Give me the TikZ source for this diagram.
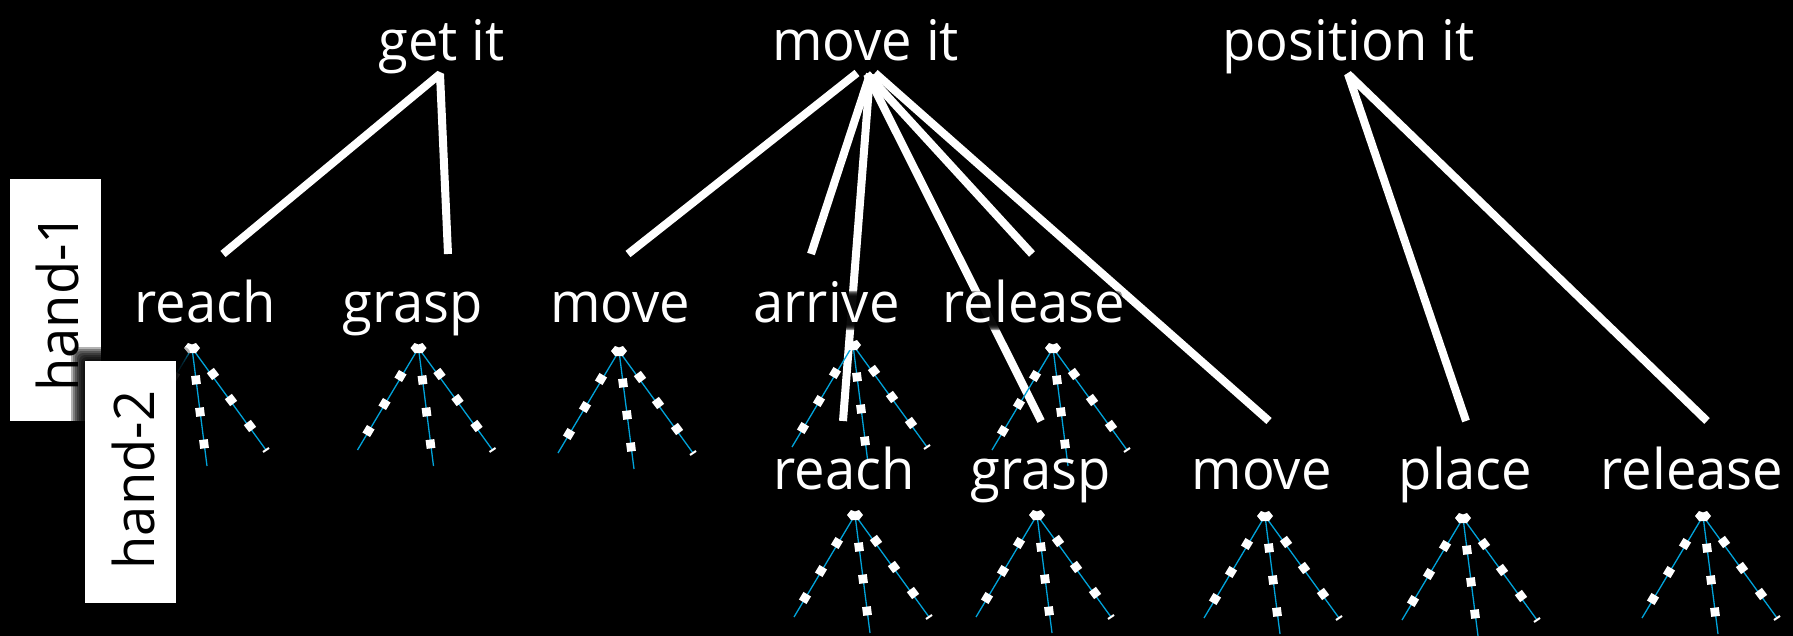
\documentclass[tikz,border=0pt]{standalone}
\usepackage{fontspec}
\setmainfont[FakeStretch=0.97]{Open Sans}
\tikzset{
  lab/.style={text=white,anchor=base,inner sep=0pt,font=\fontsize{56}{64}\selectfont},
  handbox/.style={fill=white,draw=none,inner sep=0pt,minimum width=91pt,minimum height=242pt},
  handtxt/.style={text=black,anchor=base,rotate=90,inner sep=0pt,font=\fontsize{56}{64}\selectfont},
  bar/.style={white,line width=8pt,line join=bevel},
  leg/.style={draw=legblue,line width=1.3pt},
  halo/.style={fill=black,opacity=.4,rounded corners=4pt},
}
\definecolor{legblue}{HTML}{00A3DA}
\newcommand{\fig}[2]{%
  \begin{scope}[shift={(#1,#2)}]
    \draw[leg] (0,0) -- (-61,102);
    \draw[leg] (0,0) -- (15,118);
    \draw[leg] (0,0) -- (74,102);
    \fill[white] (-8,0) -- (-4,-5) -- (0,-3.5) -- (4,-5) -- (8,0) -- (4,5) -- (-4,5) -- cycle;
    \foreach \a/\b in {-18/28,-34/56,-50/83}
      \fill[white,shift={(\a,\b)},rotate=-31] (-4.4,-4.4) rectangle (4.4,4.4);
    \foreach \a/\b in {4/32,8/64,12/96}
      \fill[white,shift={(\a,\b)},rotate=7] (-4.4,-4.4) rectangle (4.4,4.4);
    \foreach \a/\b in {21/26,39/52,58/78}
      \fill[white,shift={(\a,\b)},rotate=37] (-4.4,-4.4) rectangle (4.4,4.4);
    \draw[white,line width=2pt] (71,104) -- (77,100);
  \end{scope}}
\begin{document}
\begin{tikzpicture}[x=1pt,y=-1pt]
\path[use as bounding box,fill=black] (0,0) rectangle (1793,636);
% free ends
\coordinate (tg) at (440,74);
\coordinate (tm0) at (857,73);
\coordinate (tm1) at (870,74);
\coordinate (tm2) at (867,74);
\coordinate (tm3) at (875,73);
\coordinate (tp) at (1348,74);
\coordinate (e1) at (223,254);
\coordinate (e2) at (448,254);
\coordinate (e3) at (628,254);
\coordinate (e4) at (811,254);
\coordinate (e5) at (1032,254);
\coordinate (f1) at (843,421);
\coordinate (f2) at (1041,421);
\coordinate (f3) at (1269,421);
\coordinate (f4) at (1466,421);
\coordinate (f5) at (1707,421);
% bars
\draw[bar] (e1) -- (tg) -- (e2);
\draw[bar] (e3) -- (tm0);
\draw[bar] (e4) -- (tm1);
\draw[bar] (f1) -- (tm1);
\draw[bar] (f2) -- (tm2);
\draw[bar] (e5) -- (tm2);
\draw[bar] (f3) -- (tm3);
\draw[bar] (f4) -- (tp) -- (f5);
% soft black behind the labels that lines cross
\foreach \k in {0,...,5} {
  \fill[halo] (757-\k,296-\k) rectangle (896+\k,325+\k);
  \fill[halo] (948-\k,296-\k) rectangle (1117+\k,325+\k);
}
% little figures
\fig{192}{348}\fig{418.5}{348}\fig{619}{351}\fig{853}{345}\fig{1053}{348}
\fig{855}{515}\fig{1037}{515}\fig{1265}{516}\fig{1463}{518}\fig{1703}{516}
% labels
\node[lab] (getit) at (441.5,61) {get it};
\node[lab] (moveit) at (865.5,61) {move it};
\node[lab] (posit) at (1348.5,61) {position it};
\node[lab] (l1) at (205,323) {reach};
\node[lab] (l2) at (412.5,323) {grasp};
\node[lab] (l3) at (620,323) {move};
\node[lab] (l4) at (826.5,323) {arrive};
\node[lab] (l5) at (1034,323) {release};
\node[lab] (r1) at (844,489) {reach};
\node[lab] (r2) at (1040.5,489) {grasp};
\node[lab] (r3) at (1261.5,489) {move};
\node[lab] (r4) at (1465.5,489) {place};
\node[lab] (r5) at (1692,489) {release};
% hand boxes
\node[handbox] (b1) at (55.5,300) {};
\node[handtxt] (h1) at (78,302.5) {hand-1};
\foreach \k in {0,...,6}
  \fill[black,opacity=.3,rounded corners=6pt] (85-14+2*\k,361-14+2*\k) rectangle (176+14-2*\k,603+14-2*\k);
\node[handbox] (b2) at (130.5,482) {};
\node[handtxt] (h2) at (154,480) {hand-2};
\end{tikzpicture}
\end{document}
